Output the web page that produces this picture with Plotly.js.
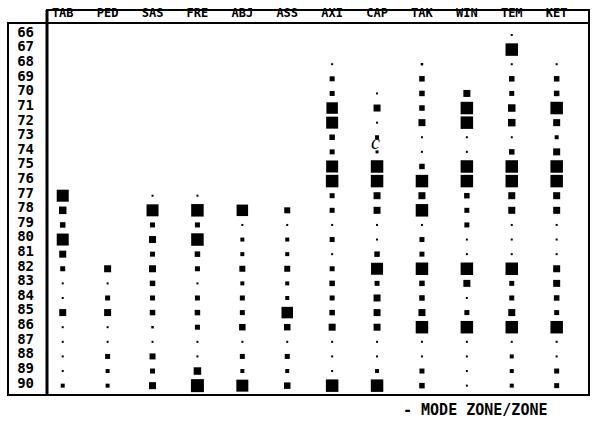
<!DOCTYPE html>
<html>
<head>
<meta charset="utf-8">
<script src="https://cdn.plot.ly/plotly-3.0.1.min.js"></script>
<style>html,body{margin:0;padding:0;background:#fff;}#chart{width:600px;height:431px;}</style>
</head>
<body>
<div id="chart"></div>
<script>
// Row labels (zones) and column categories
const rows = [66,67,68,69,70,71,72,73,74,75,76,77,78,79,80,81,82,83,84,85,86,87,88,89,90];
const columns = ["TAB","PED","SAS","FRE","ABJ","ASS","AXI","CAP","TAK","WIN","TEM","KET"];

// Square sizes per column, one value per row (66..90), null = no mark
const TAB = [null,null,null,null,null,null,null,null,null,null,null,12,7.5,5.5,12,7,5,2,2,7,2,2,2,2,4];
const PED = [null,null,null,null,null,null,null,null,null,null,null,null,null,null,null,null,7,2,5,7,2,2,5,4,4];
const SAS = [null,null,null,null,null,null,null,null,null,null,null,2,12,5,7,5,7,5.5,5,5.5,2.5,2,6,5,7];
const FRE = [null,null,null,null,null,null,null,null,null,null,null,2,12.5,5,12.5,5.5,5,2,5,5.5,5,2,2,7.5,13];
const ABJ = [null,null,null,null,null,null,null,null,null,null,null,null,11.5,2,4,4,6,4,5,5,6.5,2,5,4,12];
const ASS = [null,null,null,null,null,null,null,null,null,null,null,null,6,2,4,4,6,4,4,11.5,6.5,2,5,4,6.5];
const AXI = [null,null,2,5,5,11.5,12,5.5,5,12,12.5,5,5,2,5,2,5,5.5,5,5.5,7,2,2,2,12.5];
const CAP = [null,null,null,null,2,7,2,4,3,12.5,12.5,7,7,2,2,5.5,12,5,7,7,7,2,2,4,12.5];
const TAK = [null,null,2.5,5.5,5.5,5.5,7,2,2,5.5,12.5,7,12.5,2,5,5,12.5,5.5,5.5,7,12.5,2,2,5,5.5];
const WIN = [null,null,null,null,7,12.5,12.5,2,2,12.5,12.5,5.5,5,5,2,2,12.5,7,2,5,12.5,2,2,2,2];
const TEM = [2,12.5,2,5.5,5,7.5,7.5,2,5.5,12.5,12.5,7,7,2,2,2,12.5,5,5,7,12.5,2,4,4,4];
const KET = [null,null,2,5.5,5.5,12.5,7,4,7,12.5,12.5,7,7,2,2,2,7,7,5.5,5,12.5,2,2,5,5];

const footnote = "- MODE ZONE/ZONE";

const series = [TAB,PED,SAS,FRE,ABJ,ASS,AXI,CAP,TAK,WIN,TEM,KET];
const xs = [], ys = [], ss = [];
series.forEach((vals, ci) => {
  vals.forEach((v, ri) => {
    if (v !== null) { xs.push(columns[ci]); ys.push(rows[ri]); ss.push(v); }
  });
});

const trace = {
  type: "scatter", mode: "markers", x: xs, y: ys,
  marker: {symbol: "square", size: ss, color: "#000", opacity: 1, line: {width: 0}},
  hoverinfo: "skip"
};

const L = 47, R = 589, T = 23, B = 395;
const px = v => (v - L) / (R - L);
const py = v => (B - v) / (B - T);
const mono = "DejaVu Sans Mono";

const layout = {
  width: 600, height: 431,
  margin: {l: L, r: 600 - R, t: T, b: 431 - B, pad: 0},
  paper_bgcolor: "#fff", plot_bgcolor: "#fff",
  showlegend: false,
  xaxis: {
    type: "category", categoryarray: columns, categoryorder: "array",
    range: [-0.35, 11.72], side: "top",
    showgrid: false, zeroline: false, showline: false, ticks: "",
    tickfont: {family: mono, size: 12, color: "#000", weight: "bold"},
    ticklabelstandoff: 3, fixedrange: true
  },
  yaxis: {
    range: [90.64, 65.18], tickmode: "array", tickvals: rows, ticktext: rows.map(String),
    showgrid: false, zeroline: false, showline: false, ticks: "",
    tickfont: {family: mono, size: 14, color: "#000", weight: "bold"},
    ticklabelstandoff: 12, ticklabelshift: 3, fixedrange: true
  },
  shapes: [
    {type: "rect", xref: "paper", yref: "paper", x0: 0, x1: 1, y0: 0, y1: 1, line: {color: "#000", width: 2}},
    {type: "rect", xref: "paper", yref: "paper", x0: px(8), x1: 0, y0: 0, y1: 1, line: {color: "#000", width: 2}},
    {type: "path", xref: "paper", yref: "paper",
     path: `M0,1 L0,${py(10)} L1,${py(10)} L1,1`, line: {color: "#000", width: 2}},
    {type: "line", xref: "paper", yref: "paper", x0: 0, x1: 0, y0: 0, y1: py(10), line: {color: "#000", width: 3}}
  ],
  annotations: [
    {xref: "paper", yref: "paper", x: px(401), y: py(410), xanchor: "left", yanchor: "middle",
     text: footnote, showarrow: false, font: {family: mono, size: 15, color: "#000", weight: "bold"}},
    {xref: "x", yref: "y", x: "CAP", y: 73.3, xshift: -2, text: "c", showarrow: false,
     font: {family: "Liberation Serif", size: 20, color: "#000", style: "italic"}}
  ]
};

Plotly.newPlot("chart", [trace], layout, {displayModeBar: false, staticPlot: true});
</script>
</body>
</html>
